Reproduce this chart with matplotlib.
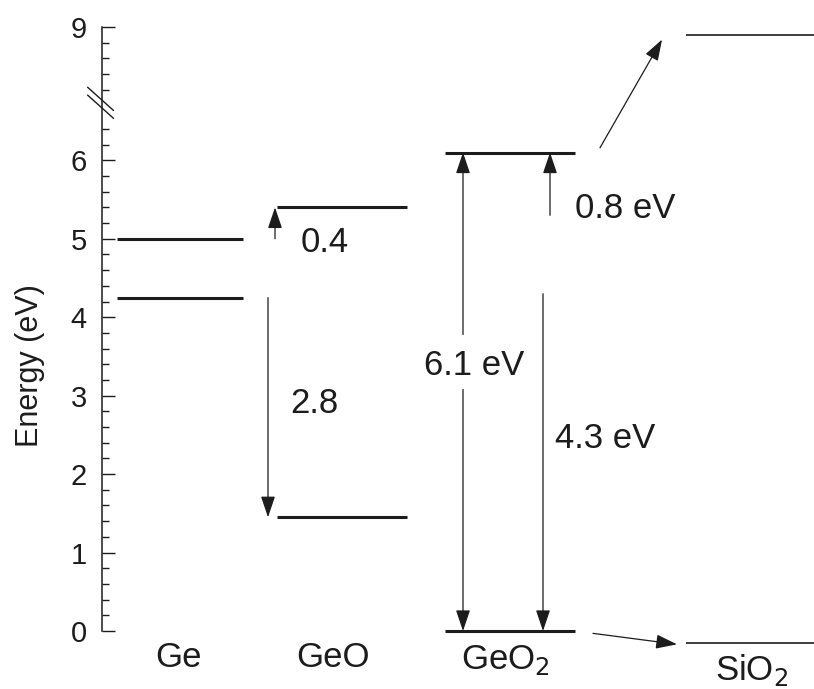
import matplotlib; matplotlib.use('Agg')
import numpy as np
import matplotlib.pyplot as plt
from matplotlib.ticker import FixedLocator

plt.rcParams['font.family'] = ['Liberation Sans', 'DejaVu Sans']
INK = '#1c1c1c'

# band edges (eV), referenced to the GeO2 valence band
materials = ['Ge', 'GeO', 'GeO$_2$', 'SiO$_2$']
vb = [4.25, 1.45, 0.0, -0.15]
cb = [5.0, 5.4, 6.1, 8.9]

# offsets written on the arrows
cb_ge_geo = 0.4
vb_ge_geo = 2.8
gap_geo2 = 6.1
vbo_geo2 = 4.3
cbo_geo2 = 0.8

major_ticks = [0, 1, 2, 3, 4, 5, 6, 9]
minor_ticks = [round(0.2 * i, 1) for i in range(1, 33) if i % 5] + [8.2, 8.4, 8.6, 8.8]

# horizontal extent of each level (x in pixel-like units)
x0 = [117, 277, 445, 686]
x1 = [243, 407, 575, 814]
lab_x = [178, 333, 505, 752]
lab_y = [-0.34, -0.34, -0.37, -0.5]


# broken energy axis: 6.6 .. 8.0 eV squeezed into 0.1
def fwd(e):
    e = np.asarray(e, float)
    return np.where(e <= 6.6, e, np.where(e >= 8.0, e - 1.3, 6.6 + (e - 6.6) / 14))


def inv(d):
    d = np.asarray(d, float)
    return np.where(d <= 6.6, d, np.where(d >= 6.7, d + 1.3, 6.6 + (d - 6.6) * 14))


fig = plt.figure(figsize=(8.14, 6.89), dpi=100)
ax = fig.add_axes([102 / 814, 58 / 689, 712 / 814, 604 / 689])
ax.set_yscale('function', functions=(fwd, inv))
ax.set_xlim(102, 814)
ax.set_ylim(0, 9)

for s in ['top', 'right', 'bottom']:
    ax.spines[s].set_visible(False)
ax.spines['left'].set_linewidth(1.1)
ax.spines['left'].set_color(INK)
ax.set_xticks([])
ax.yaxis.set_major_locator(FixedLocator(major_ticks))
ax.yaxis.set_minor_locator(FixedLocator(minor_ticks))
ax.set_yticklabels([str(t) for t in major_ticks])
ax.tick_params(axis='y', which='major', direction='in', length=9.5, width=1.0,
               pad=11, labelsize=21, colors=INK)
ax.tick_params(axis='y', which='minor', direction='in', length=5, width=1.0, colors=INK)
ax.text(30, 3.38, 'Energy (eV)', rotation=90, ha='center', va='center', size=22, color=INK)

# axis break marks
for dy in (0, -0.013):
    ax.plot([-0.02, 0.016], [0.9 + dy, 0.862 + dy], transform=ax.transAxes,
            color=INK, lw=1.0, clip_on=False)

# band levels
for i in range(4):
    lw = 1.2 if i == 3 else 2.2
    ax.plot([x0[i], x1[i]], [cb[i], cb[i]], color=INK, lw=lw, solid_capstyle='butt', clip_on=False)
    ax.plot([x0[i], x1[i]], [vb[i], vb[i]], color=INK, lw=lw, solid_capstyle='butt', clip_on=False)
    ax.text(lab_x[i], lab_y[i], materials[i], ha='center', va='center', size=25, color=INK)

AP = dict(arrowstyle='-|>,head_length=0.65,head_width=0.22', mutation_scale=20,
          lw=0.9, color=INK, shrinkA=0, shrinkB=0)


def arrow(xa, ya, xb, yb):
    ax.annotate('', xy=(xb, yb), xytext=(xa, ya), arrowprops=AP, annotation_clip=False)


# Ge -> GeO
arrow(275, cb[0], 275, cb[0] + cb_ge_geo)
ax.text(325, 4.95, f'{cb_ge_geo:g}', ha='center', va='center', size=25, color=INK)
arrow(268, vb[0], 268, vb[0] - vb_ge_geo)
ax.text(314, 2.9, f'{vb_ge_geo:g}', ha='center', va='center', size=25, color=INK)

# GeO2 gap, split around its label
arrow(463, 3.78, 463, gap_geo2)
arrow(463, 3.08, 463, 0.0)
ax.text(474, 3.38, f'{gap_geo2:g} eV', ha='center', va='center', size=25, color=INK)

# Ge / GeO2 offsets
arrow(543, vbo_geo2, 543, 0.0)
ax.text(605, 2.46, f'{vbo_geo2:g} eV', ha='center', va='center', size=25, color=INK)
arrow(550, gap_geo2 - cbo_geo2, 550, gap_geo2)
ax.text(625, 5.38, f'{cbo_geo2:g} eV', ha='center', va='center', size=25, color=INK)

# GeO2 -> SiO2
arrow(600, cb[2] + 0.06, 662, cb[3] - 0.06)
arrow(593, vb[2] - 0.03, 677, vb[3] - 0.02)

fig.savefig('out.png', dpi=100, facecolor='white')
